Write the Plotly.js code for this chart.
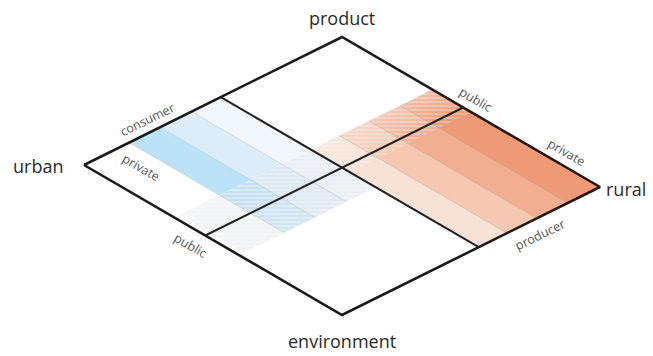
<!DOCTYPE html>
<html><head><meta charset="utf-8">
<script src="https://cdn.plot.ly/plotly-3.0.1.min.js"></script>
<style>html,body{margin:0;padding:0;background:#fff}#chart{width:653px;height:356px}</style>
</head><body><div id="chart"></div>
<script>
// ---------------- data ----------------
const cornerLabels = ['product', 'urban', 'rural', 'environment'];
// blue bands (consumer side), boundaries along the urban→product edge (fraction)
const blueBandEdges = [0.02, 0.175, 0.295, 0.417, 0.53];
const blueBandColors = ['#ffffff', '#bbe2f7', '#dcedf9', '#f1f7fc'];
const blueSolidEnd = 0.35;   // fraction along urban→environment where blue starts fading
const blueFadeEnd = 0.6;
// orange bands (producer side)
const orangeBandEdges = [0.53, 0.64, 0.755, 0.875, 1.0];
const orangeBandColors = ['#f8e2d5', '#f6c8b2', '#f2ae91', '#ee9a76'];
const orangeFadeStart = 0.35;
const orangeSolidStart = 0.5;
// dividing lines
const dividerS = 0.53;
const dividerT = 0.47;
const edgeLabels = ['consumer', 'private', 'public', 'public', 'private', 'producer'];

// ---------------- geometry / style ----------------
const L = [84, 165], A = [258, -128], B = [258, 150];
function P(s, t) { return [L[0] + s * A[0] + t * B[0], L[1] + s * A[1] + t * B[1]]; }
function quad(s0, s1, t0, t1) {
  const pts = [P(s0, t0), P(s1, t0), P(s1, t1), P(s0, t1), P(s0, t0)];
  return { x: pts.map(p => p[0]), y: pts.map(p => p[1]) };
}
function hex2rgb(h) { return [1, 3, 5].map(i => parseInt(h.substr(i, 2), 16)); }
function mix(c1, c2, f) { return c1.map((v, i) => Math.round(v * (1 - f) + c2[i] * f)); }

const labelPos = { // [s, t, angle]
  0: [0.296, -0.05, -26], 1: [0.112, 0.109, 30], 2: [-0.066, 0.479, 30],
  3: [1.054, 0.464, 30], 4: [1.053, 0.817, 30], 5: [0.705, 1.064, -26]
};
const cornerPos = [[342, 18], [38, 166], [626, 189], [342, 341]];

const traces = [];
function addFill(q, color, extra) {
  traces.push(Object.assign({ type: 'scatter', mode: 'lines', x: q.x, y: q.y, fill: 'toself',
    fillcolor: color, line: { width: 0 }, hoverinfo: 'skip' }, extra || {}));
}
const N = 10;
const grey = [206, 212, 222];
// blue bands
for (let i = 0; i < blueBandColors.length; i++) {
  const s0 = blueBandEdges[i], s1 = blueBandEdges[i + 1];
  const c = hex2rgb(blueBandColors[i]);
  addFill(quad(s0, s1, 0, blueSolidEnd), `rgb(${c.join(',')})`);
  for (let k = 0; k < N; k++) {
    const f = (k + 0.5) / N;
    const t0 = blueSolidEnd + (blueFadeEnd - blueSolidEnd) * k / N;
    const t1 = blueSolidEnd + (blueFadeEnd - blueSolidEnd) * (k + 1) / N;
    const cc = mix(c, grey, 0.28 + 0.12 * f);
    const a = 0.95 - 0.22 * f;
    addFill(quad(s0, s1, t0, t1 + 0.001), `rgba(${cc.join(',')},${a.toFixed(3)})`);
  }
  addFill(quad(s0, s1, blueSolidEnd, blueFadeEnd), 'rgba(0,0,0,0)',
    { fillpattern: { shape: '-', fgcolor: 'rgba(255,255,255,0.4)', bgcolor: 'rgba(0,0,0,0)', size: 4, solidity: 0.4 } });
}
// orange bands
for (let i = 0; i < orangeBandColors.length; i++) {
  const s0 = orangeBandEdges[i], s1 = orangeBandEdges[i + 1];
  const c = hex2rgb(orangeBandColors[i]);
  addFill(quad(s0, s1, orangeSolidStart, 1), `rgb(${c.join(',')})`);
  for (let k = 0; k < N; k++) {
    const f = (k + 0.5) / N; // 0 near fade start (faint) → 1 near solid
    const t0 = orangeFadeStart + (orangeSolidStart - orangeFadeStart) * k / N;
    const t1 = orangeFadeStart + (orangeSolidStart - orangeFadeStart) * (k + 1) / N;
    const cc = mix(c, [222, 205, 198], 0.2 * (1 - f));
    const a = 0.72 + 0.28 * f;
    addFill(quad(s0, s1, t0, t1 + 0.001), `rgba(${cc.join(',')},${a.toFixed(3)})`);
  }
  addFill(quad(s0, s1, orangeFadeStart, orangeSolidStart), 'rgba(0,0,0,0)',
    { fillpattern: { shape: '-', fgcolor: 'rgba(255,255,255,0.3)', bgcolor: 'rgba(0,0,0,0)', size: 4, solidity: 0.4 } });
}
// band separators
function addLine(pts, color, width) {
  traces.push({ type: 'scatter', mode: 'lines', x: pts.map(p => p[0]), y: pts.map(p => p[1]),
    line: { color: color, width: width }, hoverinfo: 'skip' });
}
for (let i = 1; i < blueBandEdges.length - 1; i++)
  addLine([P(blueBandEdges[i], 0), P(blueBandEdges[i], blueFadeEnd)], 'rgba(150,160,175,0.4)', 0.8);
for (let i = 1; i < orangeBandEdges.length - 1; i++)
  addLine([P(orangeBandEdges[i], orangeFadeStart), P(orangeBandEdges[i], 1)], 'rgba(170,120,100,0.4)', 0.8);
// divider lines
addLine([P(dividerS, 0), P(dividerS, 1)], '#222', 2);
addLine([P(0, dividerT), P(1, dividerT)], '#222', 2);
// outline
addLine([P(0, 0), P(1, 0), P(1, 1), P(0, 1), P(0, 0)], '#1a1a1a', 2.6);

const annotations = [];
edgeLabels.forEach((txt, i) => {
  const lp = labelPos[i]; const p = P(lp[0], lp[1]);
  annotations.push({ x: p[0], y: p[1], xref: 'x', yref: 'y', text: txt, showarrow: false,
    textangle: lp[2], font: { family: 'Open Sans, sans-serif', size: 12.5, color: '#555' } });
});
cornerLabels.forEach((txt, i) => {
  annotations.push({ x: cornerPos[i][0], y: cornerPos[i][1], xref: 'x', yref: 'y', text: txt,
    showarrow: false, font: { family: 'Open Sans, sans-serif', size: 18, color: '#2a2a2a' } });
});

Plotly.newPlot('chart', traces, {
  width: 653, height: 356, margin: { l: 0, r: 0, t: 0, b: 0 },
  paper_bgcolor: '#fff', plot_bgcolor: '#fff', showlegend: false,
  xaxis: { range: [0, 653], visible: false, fixedrange: true },
  yaxis: { range: [356, 0], visible: false, fixedrange: true },
  annotations: annotations
}, { staticPlot: true });
</script></body></html>
